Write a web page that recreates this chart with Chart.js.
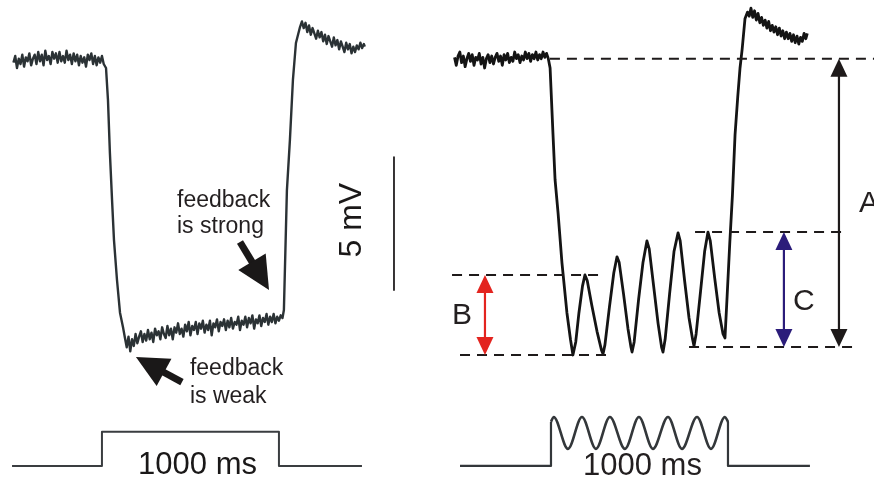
<!DOCTYPE html>
<html>
<head>
<meta charset="utf-8">
<script src="https://cdn.jsdelivr.net/npm/chart.js@4.4.1/dist/chart.umd.min.js"></script>
<style>
  body { margin: 0; background: #fff; }
  #wrap { position: relative; width: 874px; height: 482px; overflow: hidden; }
  #wrap canvas { position: absolute; top: 0; }
</style>
</head>
<body>
<div id="wrap">
  <canvas id="leftChart" width="437" height="482" style="left:0"></canvas>
  <canvas id="rightChart" width="437" height="482" style="left:437px"></canvas>
</div>
<script>
// Membrane potential traces: [time in ms from stimulus onset, mV from resting level]
const leftTrace = [
  [-500,-0.1],[-490,0.15],[-480,-0.3],[-470,0.05],[-460,-0.15],[-450,0.2],[-440,-0.25],[-430,0.1],[-420,-0.05],[-410,0.25],
  [-400,-0.2],[-390,0.05],[-380,0.2],[-370,-0.15],[-360,0.3],[-350,-0.05],[-340,0.2],[-330,-0.2],[-320,0.35],[-310,0.0],
  [-300,0.15],[-290,-0.15],[-280,0.3],[-270,0.05],[-260,0.25],[-250,-0.1],[-240,0.3],[-230,-0.05],[-220,0.15],[-210,-0.1],
  [-200,0.35],[-190,0.0],[-180,0.2],[-170,-0.15],[-160,0.25],[-150,-0.05],[-140,0.2],[-130,-0.2],[-120,0.15],[-110,-0.1],
  [-100,0.1],[-90,-0.25],[-80,0.2],[-70,0.0],[-60,0.25],[-50,-0.15],[-40,0.15],[-30,-0.2],[-20,0.1],[-10,-0.1],
  [0,0.15],[10,-0.15],
  [23,-0.3],[34,-1.5],[45,-3.5],[57,-5.26],[68,-6.77],[85,-8.27],[102,-9.5],[119,-10.05],
  [130,-10.45],[140,-10.8],[150,-10.4],[160,-10.95],[170,-10.5],[180,-10.75],[190,-10.3],[200,-10.65],[210,-10.4],[220,-10.2],
  [230,-10.6],[240,-10.3],[250,-10.55],[260,-10.15],[270,-10.5],[280,-10.25],[290,-10.6],[300,-10.1],[310,-10.35],[320,-10.2],
  [330,-10.5],[340,-10.05],[350,-10.3],[360,-10.45],[370,-10.0],[380,-10.35],[390,-10.1],[400,-10.5],[410,-10.05],[420,-10.25],
  [430,-9.9],[440,-10.3],[450,-10.1],[460,-10.4],[470,-9.95],[480,-10.2],[490,-9.85],[500,-10.35],[510,-10.0],[520,-10.15],
  [530,-9.85],[540,-10.3],[550,-9.9],[560,-10.1],[570,-9.8],[580,-10.25],[590,-9.95],[600,-10.15],[610,-9.8],[620,-10.35],
  [630,-9.9],[640,-10.05],[650,-9.75],[660,-10.2],[670,-9.85],[680,-10.0],[690,-9.75],[700,-10.15],[710,-9.8],[720,-10.05],
  [730,-9.7],[740,-10.1],[750,-9.85],[760,-9.95],[770,-9.65],[780,-10.15],[790,-9.8],[800,-9.95],[810,-9.65],[820,-10.05],
  [830,-9.7],[840,-9.9],[850,-9.6],[860,-10.1],[870,-9.75],[880,-9.9],[890,-9.6],[900,-10.0],[910,-9.7],[920,-9.85],
  [930,-9.55],[940,-9.95],[950,-9.65],[960,-9.85],[970,-9.55],[980,-9.9],[990,-9.65],[1000,-9.8],[1010,-9.6],[1020,-9.7],
  [1028,-9.4],[1045,-4.9],[1062,-3.0],[1079,-0.75],[1096,0.64],[1119,1.24],[1130,1.45],
  [1140,1.2],[1150,1.4],[1160,1.05],[1170,1.3],[1180,0.95],[1190,1.2],[1200,1.0],[1210,0.8],[1220,1.1],[1230,0.85],
  [1240,1.05],[1250,0.7],[1260,0.95],[1270,0.6],[1280,0.9],[1290,0.7],[1300,0.5],[1310,0.85],[1320,0.55],[1330,0.75],
  [1340,0.4],[1350,0.7],[1360,0.5],[1370,0.3],[1380,0.65],[1390,0.4],[1400,0.6],[1410,0.25],[1420,0.5],[1430,0.3],
  [1440,0.55],[1450,0.4],[1460,0.65],[1470,0.45],[1480,0.6],[1485,0.5]
];

const rightTrace = [
  [-545,0.1],[-535,-0.2],[-525,0.15],[-515,0.3],[-505,-0.1],[-495,0.15],[-485,-0.25],[-475,0.05],[-465,0.25],[-455,-0.05],
  [-445,0.2],[-435,-0.2],[-425,0.1],[-415,0.0],[-405,0.25],[-395,-0.15],[-385,0.1],[-375,-0.3],[-365,0.05],[-355,0.2],
  [-345,-0.1],[-335,0.15],[-325,-0.15],[-315,0.1],[-305,0.25],[-295,-0.05],[-285,0.15],[-275,-0.2],[-265,0.2],[-255,0.0],
  [-245,0.25],[-235,-0.1],[-225,0.1],[-215,-0.05],[-205,0.3],[-195,0.05],[-185,0.2],[-175,-0.1],[-165,0.15],[-155,0.0],
  [-145,0.3],[-135,0.05],[-125,0.25],[-115,-0.05],[-105,0.2],[-95,0.05],[-85,0.3],[-75,0.0],[-65,0.2],[-55,0.05],
  [-45,0.3],[-35,0.1],[-25,0.25],[-15,0.05],
  [-5,-0.3],[11,-2.74],[23,-4.5],[40,-5.75],[62,-7.63],[90,-9.5],[110,-10.5],[124,-11.09],
  [140,-10.6],[158,-9.5],[178,-8.5],[192,-8.08],[205,-8.3],[230,-9.2],[260,-10.2],[285,-10.9],[294,-11.05],
  [305,-10.7],[330,-9.3],[355,-8.0],[373,-7.4],[385,-7.6],[410,-8.8],[435,-10.1],[452,-10.8],[458,-10.98],
  [470,-10.6],[495,-9.0],[520,-7.6],[542,-6.8],[555,-7.1],[580,-8.5],[605,-9.9],[625,-10.8],[633,-10.98],
  [645,-10.5],[670,-8.8],[695,-7.2],[718,-6.5],[730,-6.8],[755,-8.3],[780,-9.7],[800,-10.5],[808,-10.75],
  [820,-10.3],[845,-8.7],[868,-7.2],[887,-6.47],[900,-6.8],[925,-8.2],[950,-9.5],[972,-10.3],[983,-10.45],
  [995,-8.9],[1010,-6.9],[1025,-5.1],[1040,-2.8],[1055,-1.4],[1068,-0.3],[1080,0.4],[1096,1.55],[1110,1.8],
  [1120,1.65],[1130,1.95],[1140,1.6],[1150,1.85],[1160,1.5],[1170,1.75],[1180,1.4],[1190,1.6],[1200,1.3],[1210,1.5],
  [1220,1.2],[1230,1.45],[1240,1.1],[1250,1.3],[1260,1.05],[1270,1.25],[1280,0.95],[1290,1.2],[1300,0.9],[1310,1.1],
  [1320,0.8],[1330,1.05],[1340,0.8],[1350,1.0],[1360,0.7],[1370,0.95],[1380,0.65],[1390,0.9],[1400,0.6],[1410,0.85],
  [1420,0.7],[1430,1.0],[1440,0.8],[1448,1.0]
];

// Stimulus timing traces (drawn below the recordings, same ms axis)
const leftStimulus = [[-508,-15.26],[0,-15.26],[0,-13.98],[1000,-13.98],[1000,-15.26],[1469,-15.26]];
const rightStimulusOn = [[-514,-15.26],[0,-15.26],[0,-13.6]];
const rightStimulusOff = [[1000,-13.6],[1000,-15.26],[1463,-15.26]];
const rightStimulusWave = [
  [0,-13.6],[15,-13.42],[96,-14.62],[175,-13.42],[254,-14.62],[333,-13.42],[418,-14.62],
  [497,-13.42],[576,-14.62],[661,-13.42],[740,-14.62],[825,-13.42],[904,-14.62],[983,-13.42],[1000,-13.6]
];

// Measured levels in the right panel (mV): [top, bottom]
const levelA = [0.05, -10.79];
const levelB = [-8.08, -11.09];
const levelC = [-6.47, -10.79];

// 5 mV scale bar
const scaleBar = [[1650,-3.65],[1650,-8.65]];

const Y_MIN = -15.865, Y_MAX = 2.256;
const FONT = '"Liberation Sans", Arial, Helvetica, sans-serif';
const INK = '#231f20';

function xy(pairs) {
  return pairs.map(p => ({ x: p[0], y: p[1] }));
}

function lineSet(pairs, color, width, extra) {
  return Object.assign({
    data: xy(pairs),
    borderColor: color,
    borderWidth: width,
    pointRadius: 0,
    tension: 0,
    fill: false,
    borderJoinStyle: 'round'
  }, extra || {});
}

function dashSet(x0, x1, level) {
  return lineSet([[x0, level], [x1, level]], '#1e1a1a', 2, { borderDash: [10, 7] });
}

function baseOptions(xMin, xMax) {
  return {
    responsive: false,
    animation: false,
    devicePixelRatio: 1,
    events: [],
    layout: { padding: 0 },
    plugins: { legend: { display: false }, tooltip: { enabled: false } },
    scales: {
      x: { type: 'linear', min: xMin, max: xMax, display: false },
      y: { type: 'linear', min: Y_MIN, max: Y_MAX, display: false }
    }
  };
}

function blockArrow(ctx, x0, y0, x1, y1, headLen, headHalf, shaft, color) {
  const dx = x1 - x0, dy = y1 - y0, len = Math.hypot(dx, dy);
  const ux = dx / len, uy = dy / len;
  const bx = x1 - ux * headLen, by = y1 - uy * headLen;
  ctx.strokeStyle = color;
  ctx.lineWidth = shaft;
  ctx.beginPath();
  ctx.moveTo(x0, y0);
  ctx.lineTo(bx + ux * 3, by + uy * 3);
  ctx.stroke();
  ctx.fillStyle = color;
  ctx.beginPath();
  ctx.moveTo(x1, y1);
  ctx.lineTo(bx - uy * headHalf, by + ux * headHalf);
  ctx.lineTo(bx + uy * headHalf, by - ux * headHalf);
  ctx.closePath();
  ctx.fill();
}

function doubleArrow(ctx, x, yTop, yBot, color) {
  const hl = 18, hw = 8.5;
  ctx.strokeStyle = color;
  ctx.lineWidth = 2.2;
  ctx.beginPath();
  ctx.moveTo(x, yTop + hl - 2);
  ctx.lineTo(x, yBot - hl + 2);
  ctx.stroke();
  ctx.fillStyle = color;
  ctx.beginPath();
  ctx.moveTo(x, yTop); ctx.lineTo(x - hw, yTop + hl); ctx.lineTo(x + hw, yTop + hl);
  ctx.closePath(); ctx.fill();
  ctx.beginPath();
  ctx.moveTo(x, yBot); ctx.lineTo(x - hw, yBot - hl); ctx.lineTo(x + hw, yBot - hl);
  ctx.closePath(); ctx.fill();
}

// Left panel labels, arrows and scale text
const leftNotes = {
  id: 'leftNotes',
  afterDatasetsDraw(chart) {
    const ctx = chart.ctx, sx = chart.scales.x, sy = chart.scales.y;
    const X = v => sx.getPixelForValue(v), Y = v => sy.getPixelForValue(v);
    ctx.save();
    ctx.fillStyle = INK;
    ctx.font = '23px ' + FONT;
    ctx.textAlign = 'left';
    ctx.textBaseline = 'alphabetic';
    ctx.fillText('feedback', X(424), Y(-5.53));
    ctx.fillText('is strong', X(424), Y(-6.5));
    ctx.fillText('feedback', X(497), Y(-11.84));
    ctx.fillText('is weak', X(497), Y(-12.89));

    blockArrow(ctx, X(780), Y(-6.84), X(944), Y(-8.65), 33, 16, 7, '#1a1818');
    blockArrow(ctx, X(452), Y(-12.11), X(192), Y(-11.17), 32, 15.5, 7, '#1a1818');

    ctx.font = '31px ' + FONT;
    ctx.textAlign = 'center';
    ctx.fillText('1000 ms', X(540), Y(-15.56));

    ctx.save();
    ctx.translate(X(1412), Y(-6.02));
    ctx.rotate(-Math.PI / 2);
    ctx.font = '32px ' + FONT;
    ctx.textAlign = 'center';
    ctx.textBaseline = 'middle';
    ctx.fillText('5 mV', 0, 0);
    ctx.restore();
    ctx.restore();
  }
};

// Right panel double arrows and letters
const rightNotes = {
  id: 'rightNotes',
  afterDatasetsDraw(chart) {
    const ctx = chart.ctx, sx = chart.scales.x, sy = chart.scales.y;
    const X = v => sx.getPixelForValue(v), Y = v => sy.getPixelForValue(v);
    ctx.save();
    doubleArrow(ctx, X(1627), Y(levelA[0]), Y(levelA[1]), '#1e1a1a');
    doubleArrow(ctx, X(1316), Y(levelC[0]), Y(levelC[1]), '#2b1c7a');
    doubleArrow(ctx, X(-373), Y(levelB[0]), Y(levelB[1]), '#e3241f');

    ctx.fillStyle = INK;
    ctx.font = '30px ' + FONT;
    ctx.textAlign = 'left';
    ctx.textBaseline = 'middle';
    ctx.fillText('A', X(1740), Y(-5.41));
    ctx.fillText('C', X(1367), Y(-9.1));
    ctx.fillText('B', X(-559), Y(-9.62));

    ctx.font = '31px ' + FONT;
    ctx.textAlign = 'center';
    ctx.textBaseline = 'alphabetic';
    ctx.fillText('1000 ms', X(517), Y(-15.6));
    ctx.restore();
  }
};

new Chart(document.getElementById('leftChart'), {
  type: 'line',
  data: {
    datasets: [
      lineSet(leftTrace, '#2b3235', 2.4),
      lineSet(leftStimulus, '#3a3d40', 2),
      lineSet(scaleBar, INK, 1.8)
    ]
  },
  options: baseOptions(-576, 1893),
  plugins: [leftNotes]
});

new Chart(document.getElementById('rightChart'), {
  type: 'line',
  data: {
    datasets: [
      dashSet(-6, 1830, levelA[0]),
      dashSet(780, 1706, levelA[1]),
      dashSet(814, 1661, levelC[0]),
      dashSet(-559, 277, levelB[0]),
      dashSet(-514, 316, levelB[1]),
      lineSet(rightTrace, '#141414', 2.8),
      lineSet(rightStimulusOn, '#33373a', 2.2),
      lineSet(rightStimulusOff, '#33373a', 2.2),
      lineSet(rightStimulusWave, '#33373a', 2.6, { cubicInterpolationMode: 'monotone' })
    ]
  },
  options: baseOptions(-644, 1825),
  plugins: [rightNotes]
});
</script>
</body>
</html>
